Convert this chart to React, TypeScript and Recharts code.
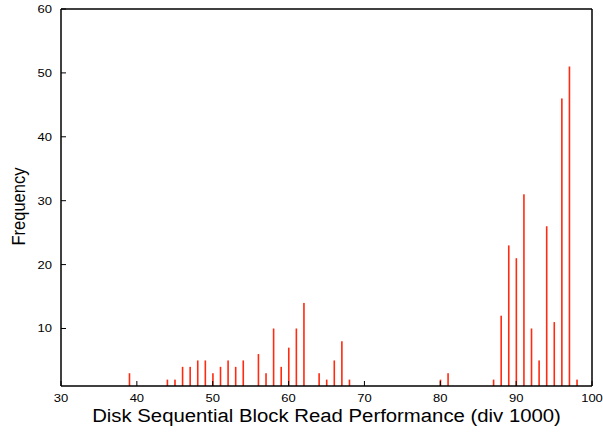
import { BarChart, Bar, XAxis, YAxis, Label } from 'recharts';

// block read throughput buckets (div 1000) and how many runs landed in each
const perfBuckets = [
  39, 44, 45, 46, 47, 48, 49, 50, 51, 52, 53, 54, 56, 57, 58, 59, 60, 61, 62,
  64, 65, 66, 67, 68, 80, 81, 87, 88, 89, 90, 91, 92, 93, 94, 95, 96, 97, 98,
];
const frequencies = [
  3, 2, 2, 4, 4, 5, 5, 3, 4, 5, 4, 5, 6, 3, 10, 4, 7, 10, 14,
  3, 2, 5, 8, 2, 2, 3, 2, 12, 23, 21, 31, 10, 5, 26, 11, 46, 51, 2,
];
const xTicks = [30, 40, 50, 60, 70, 80, 90, 100];
const yTicks = [10, 20, 30, 40, 50, 60];

const data = perfBuckets.map((perf, i) => ({ perf, freq: frequencies[i] }));

const FONT = '"Liberation Sans", Arial, Helvetica, sans-serif';
const IMPULSE = '#ff2a10';
// the terminal font is a touch wider than Helvetica
const STRETCH = 1.13;

// gnuplot-style impulse: a thin vertical stroke centred on the bucket
function Impulse(props: any) {
  const { x, y, width, height } = props;
  if (height == null || height <= 0) return null;
  const cx = x + width / 2;
  return <rect x={cx - 0.8} y={y} width={1.6} height={height} fill={IMPULSE} />;
}

function XTick({ x, y, payload }: any) {
  return (
    <text
      transform={`translate(${x},${y + 11}) scale(${STRETCH},1)`}
      textAnchor="middle"
      fontSize={11.5}
      fontFamily={FONT}
      fill="#000"
    >
      {payload.value}
    </text>
  );
}

function YTick({ x, y, payload }: any) {
  return (
    <text
      transform={`translate(${x},${y + 4}) scale(${STRETCH},1)`}
      textAnchor="end"
      fontSize={11.5}
      fontFamily={FONT}
      fill="#000"
    >
      {payload.value}
    </text>
  );
}

function XTitle({ viewBox }: any) {
  const cx = viewBox.x + viewBox.width / 2;
  return (
    <text
      transform={`translate(${cx},${viewBox.y + 36}) scale(${STRETCH},1)`}
      textAnchor="middle"
      fontSize={18}
      fontFamily={FONT}
      fill="#000"
    >
      Disk Sequential Block Read Performance (div 1000)
    </text>
  );
}

function YTitle({ viewBox }: any) {
  const cy = viewBox.y + viewBox.height / 2 + 9;
  return (
    <text
      transform={`translate(25,${cy}) scale(${STRETCH},1) rotate(-90)`}
      textAnchor="middle"
      fontSize={16.5}
      fontFamily={FONT}
      fill="#000"
    >
      Frequency
    </text>
  );
}

export default function App() {
  const axisLine = { stroke: '#000', strokeWidth: 1.5 };
  const tickLine = { stroke: '#000', strokeWidth: 1 };

  return (
    <div style={{ position: 'absolute', left: 0, top: 0, background: '#fff' }}>
      <BarChart
        width={603}
        height={432}
        data={data}
        margin={{ top: 8, right: 10, bottom: 0, left: 0 }}
        barSize={2}
      >
        <XAxis
          xAxisId="bottom"
          dataKey="perf"
          type="number"
          domain={[30, 100]}
          ticks={xTicks}
          interval={0}
          height={46}
          padding={{ left: 0, right: 0 }}
          axisLine={axisLine}
          tickLine={tickLine}
          tickSize={-5}
          tickMargin={10}
          tick={<XTick />}
        >
          <Label content={<XTitle />} />
        </XAxis>
        {/* top and right edges of the frame, ticks pointing inwards */}
        <XAxis
          xAxisId="top"
          orientation="top"
          dataKey="perf"
          type="number"
          domain={[30, 100]}
          ticks={xTicks}
          interval={0}
          height={1}
          padding={{ left: 0, right: 0 }}
          tick={false}
          tickSize={-5}
          axisLine={axisLine}
          tickLine={tickLine}
        />
        <YAxis
          yAxisId="left"
          type="number"
          domain={[1, 60]}
          ticks={yTicks}
          interval={0}
          width={61}
          axisLine={axisLine}
          tickLine={tickLine}
          tickSize={-5}
          tickMargin={14}
          tick={<YTick />}
        >
          <Label content={<YTitle />} />
        </YAxis>
        <YAxis
          yAxisId="right"
          orientation="right"
          type="number"
          domain={[1, 60]}
          ticks={yTicks}
          interval={0}
          width={1}
          tick={false}
          tickSize={-5}
          axisLine={axisLine}
          tickLine={tickLine}
        />
        <Bar
          dataKey="freq"
          xAxisId="bottom"
          yAxisId="left"
          shape={Impulse}
          isAnimationActive={false}
        />
      </BarChart>
    </div>
  );
}
